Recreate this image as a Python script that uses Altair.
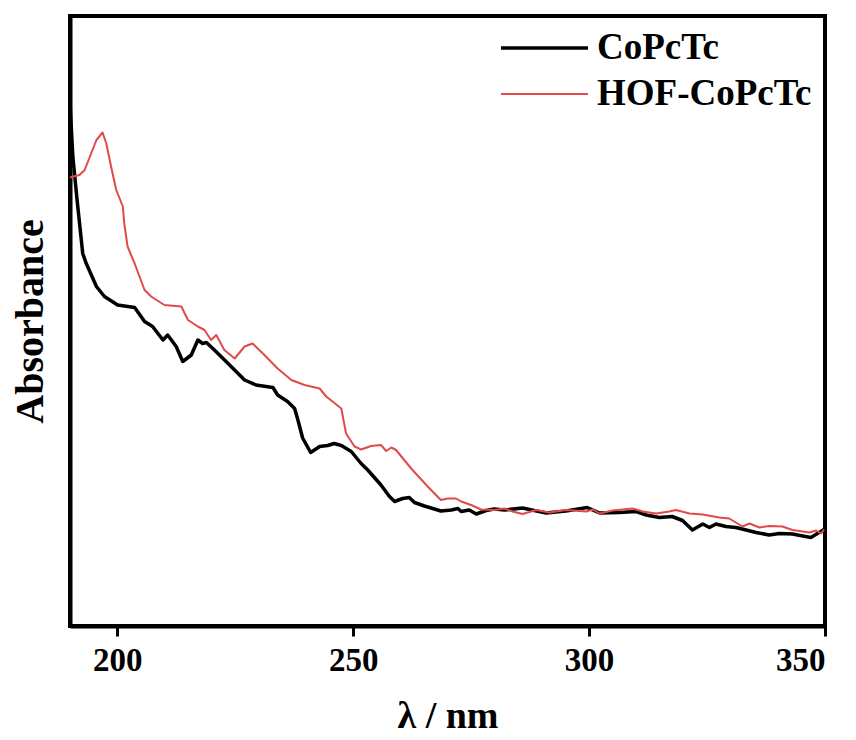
import altair as alt
import pandas as pd

# CoPcTc (black)
wl_co = [190.0, 190.6, 191.5, 192.7, 193.4, 195.6, 197.3, 200.1, 203.7, 205.8, 207.5, 209.7, 210.7,
         212.5, 213.9, 215.7, 217.1, 218.1, 218.9, 220.6, 223.4, 227.0, 229.4, 233.0, 234.0, 236.1,
         237.6, 238.3, 239.3, 241.0, 242.9, 244.6, 246.0, 247.5, 249.6, 251.7, 253.1, 255.9, 257.7,
         258.8, 260.5, 261.9, 263.0, 265.1, 267.2, 268.6, 270.8, 272.2, 272.9, 274.6, 276.1, 278.2,
         279.9, 282.1, 285.9, 290.9, 295.1, 299.6, 302.2, 306.4, 310.0, 312.1, 314.9, 317.6, 319.8,
         321.9, 324.1, 325.5, 326.9, 329.0, 331.1, 333.3, 335.4, 338.2, 340.3, 343.1, 345.3, 347.0,
         348.4, 349.8]
ab_co = [1.046, 0.939, 0.852, 0.745, 0.726, 0.679, 0.659, 0.642, 0.637, 0.609, 0.599, 0.572, 0.582,
         0.559, 0.529, 0.542, 0.572, 0.565, 0.567, 0.552, 0.526, 0.492, 0.482, 0.477, 0.462, 0.449,
         0.435, 0.412, 0.376, 0.347, 0.359, 0.361, 0.365, 0.361, 0.349, 0.325, 0.312, 0.282, 0.259,
         0.249, 0.255, 0.257, 0.247, 0.240, 0.234, 0.230, 0.232, 0.235, 0.229, 0.232, 0.224, 0.231,
         0.234, 0.232, 0.236, 0.226, 0.230, 0.237, 0.226, 0.227, 0.229, 0.222, 0.217, 0.219, 0.211,
         0.192, 0.204, 0.197, 0.204, 0.199, 0.197, 0.192, 0.187, 0.182, 0.185, 0.184, 0.180, 0.177,
         0.185, 0.193]

# HOF-CoPcTc (red)
wl_hof = [190.0, 192.0, 193.1, 195.6, 196.9, 197.7, 198.7, 199.8, 201.2, 201.5, 202.2, 203.7, 205.8,
          207.2, 210.0, 213.6, 215.0, 217.1, 218.5, 219.9, 221.0, 222.7, 224.9, 227.0, 228.7, 231.2,
          234.0, 236.9, 239.7, 242.9, 244.3, 247.5, 248.5, 250.3, 251.7, 253.8, 255.9, 257.0, 258.1,
          259.1, 262.3, 265.8, 268.6, 270.0, 271.8, 272.9, 275.0, 277.1, 279.9, 282.1, 283.8, 285.9,
          288.8, 291.6, 295.1, 299.4, 300.8, 302.2, 305.0, 309.2, 311.4, 314.2, 317.0, 318.4, 321.3,
          324.1, 327.6, 329.7, 332.5, 334.0, 336.1, 338.2, 341.0, 343.1, 345.3, 346.7, 348.1, 349.2,
          349.8]
ab_hof = [0.897, 0.902, 0.912, 0.972, 0.987, 0.965, 0.919, 0.872, 0.839, 0.805, 0.759, 0.725, 0.672,
          0.659, 0.642, 0.639, 0.612, 0.599, 0.592, 0.572, 0.582, 0.552, 0.535, 0.559, 0.565, 0.542,
          0.515, 0.492, 0.482, 0.475, 0.459, 0.435, 0.385, 0.359, 0.353, 0.360, 0.362, 0.350, 0.357,
          0.352, 0.315, 0.279, 0.252, 0.255, 0.255, 0.249, 0.242, 0.233, 0.232, 0.235, 0.229, 0.224,
          0.232, 0.227, 0.232, 0.229, 0.233, 0.225, 0.231, 0.235, 0.229, 0.225, 0.229, 0.232, 0.225,
          0.223, 0.217, 0.215, 0.199, 0.205, 0.197, 0.200, 0.199, 0.192, 0.189, 0.187, 0.191, 0.185,
          0.193]

series = ["CoPcTc", "HOF-CoPcTc"]
colors = ["#000000", "#e04a4a"]
widths = [3.5, 2.0]
x_ticks = [200, 250, 300, 350]

df = pd.concat([
    pd.DataFrame({"wl": wl_co, "ab": ab_co, "s": series[0], "o": range(len(wl_co))}),
    pd.DataFrame({"wl": wl_hof, "ab": ab_hof, "s": series[1], "o": range(len(wl_hof))}),
])

FONT = "Liberation Serif"

chart = alt.Chart(df).mark_line(strokeJoin="round").encode(
    x=alt.X("wl:Q", scale=alt.Scale(domain=[190, 350], nice=False, zero=False),
            axis=alt.Axis(title="λ / nm", values=x_ticks, grid=False, tickSize=10, tickWidth=3,
                          domainWidth=4, domainColor="black", tickColor="black",
                          labelFont=FONT, labelFontWeight="bold", labelFontSize=33,
                          labelColor="black", labelPadding=8,
                          titleFont=FONT, titleFontWeight="bold", titleFontSize=38,
                          titleColor="black", titlePadding=20)),
    y=alt.Y("ab:Q", scale=alt.Scale(domain=[0, 1.22], nice=False),
            axis=alt.Axis(title="Absorbance", labels=False, ticks=False, grid=False,
                          domainWidth=4, domainColor="black",
                          titleFont=FONT, titleFontWeight="bold", titleFontSize=40,
                          titleColor="black", titlePadding=20)),
    color=alt.Color("s:N", scale=alt.Scale(domain=series, range=colors),
                    legend=alt.Legend(title=None, orient="none", legendX=429, legendY=9,
                                      symbolType="stroke", symbolSize=7569, symbolStrokeWidth=3,
                                      clipHeight=46, rowPadding=0, labelOffset=7,
                                      labelFont=FONT, labelFontWeight="bold", labelFontSize=37,
                                      labelColor="black", padding=0, labelLimit=400)),
    strokeWidth=alt.StrokeWidth("s:N", scale=alt.Scale(domain=series, range=widths), legend=None),
    order="o:Q",
).properties(
    width=755, height=610,
    autosize=alt.AutoSizeParams(type="none"),
    padding={"left": 62, "top": 8, "right": 23, "bottom": 114},
).configure_view(stroke="black", strokeWidth=4)

chart.save("out.html", embed_options={"renderer": "svg", "actions": False})
